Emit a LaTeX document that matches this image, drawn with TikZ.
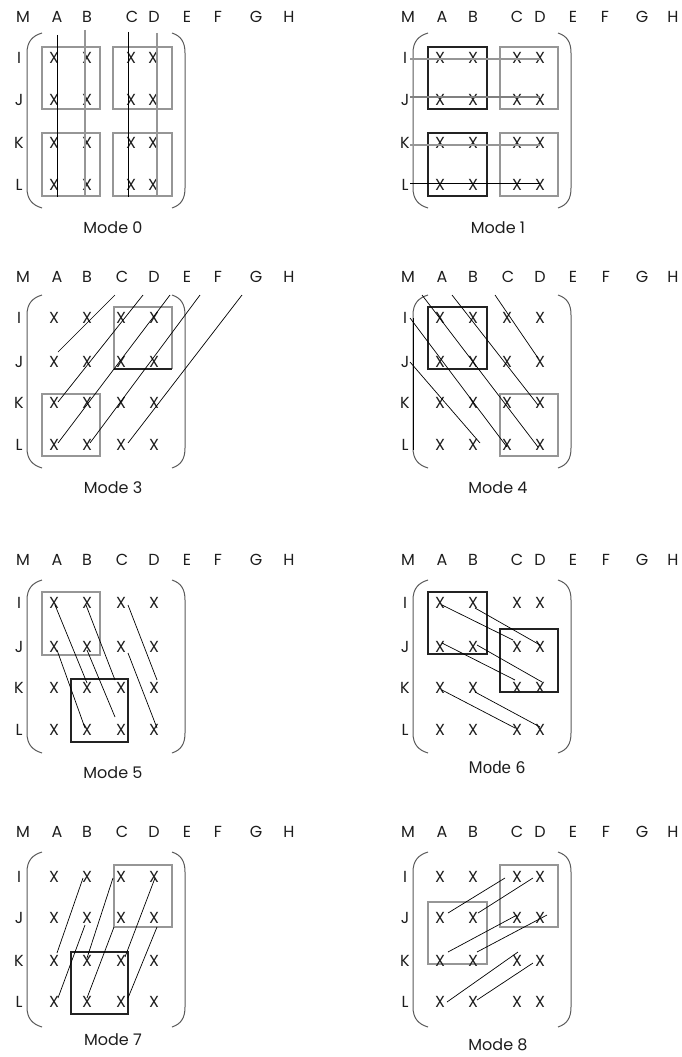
\documentclass[tikz,border=0pt]{standalone}
\usepackage{fontspec}
\setmainfont{Poppins}
\newfontfamily\arialf{Liberation Sans}
\definecolor{ink}{RGB}{30,30,30}
\definecolor{gl}{RGB}{150,150,150}
\definecolor{pc}{RGB}{90,90,90}
\definecolor{dk}{RGB}{35,35,35}
\tikzset{
  hd/.style={font=\fontsize{16}{16}\selectfont, text=ink, inner sep=0pt},
  xx/.style={font=\fontsize{16}{16}\selectfont, text=ink, inner sep=0pt},
  modelbl/.style={font=\fontsize{16}{16}\selectfont, text=ink, inner sep=0pt},
  gbox/.style={draw=gl, line width=1.1pt},
  kbox/.style={draw=dk, line width=1.25pt},
  gln/.style={draw=gl, line width=1.2pt},
  kln/.style={draw=black, line width=1.0pt},
  dln/.style={draw=black, line width=0.7pt},
  paren/.style={draw=pc, line width=1.0pt}
}
% \mparen{leftend}{rightend}{top}{bottom}
\newcommand\mparen[4]{%
  \draw[paren] (#1,#3) .. controls ({#1-10},{#3+3}) and ({#1-15},{#3+9}) .. ({#1-15},{#3+20})
     -- ({#1-15},{#4-20}) .. controls ({#1-15},{#4-9}) and ({#1-10},{#4-3}) .. (#1,#4);
  \draw[paren] (#2,#3) .. controls ({#2+9},{#3+3}) and ({#2+13},{#3+9}) .. ({#2+13},{#3+20})
     -- ({#2+13},{#4-20}) .. controls ({#2+13},{#4-9}) and ({#2+9},{#4-3}) .. (#2,#4);}
\newcommand\hdrL[2]{\foreach \t/\x in {M/23,A/57,B/87,C/122,D/154,E/187,F/218,G/256,H/289}
  \node[hd] (#1-\t) at (\x,#2) {\t};}
\newcommand\hdrR[2]{\foreach \t/\x in {M/408,A/442,B/473,C/517,D/540,E/573,F/606,G/642,H/673}
  \node[hd] (#1-\t) at (\x,#2) {\t};}
\newcommand\rows[6]{\foreach \t/\y in {I/#3,J/#4,K/#5,L/#6}
  \node[hd] (#1-\t) at (#2,\y) {\t};}
\newcommand\xs[9]{\foreach \c/\x in {A/#2,B/#3,C/#4,D/#5}
  \foreach \r/\y in {I/#6,J/#7,K/#8,L/#9}
  \node[xx] (#1-\c\r) at (\x,\y) {X};}
\begin{document}
\begin{tikzpicture}[x=1pt,y=-1pt]
\useasboundingbox[fill=white] (0,0) rectangle (682,1057);

% ---------- Mode 0 ----------
\foreach \t/\x in {M/23,A/57,B/87,C/132,D/154,E/187,F/218,G/256,H/289}
  \node[hd] (a-\t) at (\x,17) {\t};
\rows{a}{19}{58}{100}{143}{185}
\mparen{42}{172}{33}{208}
\draw[gbox] (42,47) rectangle (100,109);
\draw[gbox] (113,47) rectangle (172,109);
\draw[gbox] (42,133) rectangle (100,196);
\draw[gbox] (113,133) rectangle (172,196);
\xs{a}{54}{87}{131}{153}{58}{100}{143}{185}
\draw[gln] (85,30) -- (85,197);
\draw[gln] (157,33) -- (157,197);
\draw[kln] (57,35) -- (57,197);
\draw[kln] (128,32) -- (128,197);
\node[modelbl] (a-cap) at (113,228) {Mode 0};

% ---------- Mode 1 ----------
\foreach \t/\x in {M/408,A/442,B/473,C/517,D/540,E/573,F/605,G/642,H/673}
  \node[hd] (b-\t) at (\x,17) {\t};
\rows{b}{405}{58}{100}{143}{185}
\mparen{428}{558}{33}{208}
\draw[kbox] (428,47) rectangle (487,109);
\draw[gbox] (500,47) rectangle (558,109);
\draw[kbox] (428,133) rectangle (487,196);
\draw[gbox] (500,133) rectangle (558,196);
\xs{b}{440}{473}{517}{540}{58}{100}{143}{185}
\draw[gln] (410,59) -- (540,59);
\draw[gln, draw=gray] (410,97) -- (540,97);
\draw[gln] (410,145) -- (540,145);
\draw[kln] (410,183) -- (540,183);
\node[modelbl] (b-cap) at (498,228) {Mode 1};

% ---------- Mode 3 ----------
\hdrL{c}{277}
\rows{c}{19}{318}{362}{403}{445}
\mparen{42}{172}{295}{468}
\draw[gbox] (114,369) -- (114,307) -- (172,307) -- (172,369);
\draw[kbox] (114,369) -- (172,369);
\draw[gbox] (42,394) rectangle (100,456);
\xs{c}{54}{87}{121}{154}{318}{362}{403}{445}
\draw[dln] (115,295) -- (58,352);
\draw[dln] (143,295) -- (58,402);
\draw[dln] (170,295) -- (58,443);
\draw[dln] (200,295) -- (90,443);
\draw[dln] (242,295) -- (128,443);
\node[modelbl] (c-cap) at (113,488) {Mode 3};

% ---------- Mode 4 ----------
\foreach \t/\x in {M/408,A/442,B/473,C/508,D/540,E/573,F/606,G/642,H/673}
  \node[hd] (d-\t) at (\x,277) {\t};
\rows{d}{405}{318}{362}{403}{445}
\mparen{428}{558}{295}{468}
\draw[kln] (413,318) -- (413,450);
\draw[kbox] (428,307) rectangle (487,369);
\draw[gbox] (500,394) rectangle (558,456);
\xs{d}{440}{473}{507}{540}{318}{362}{403}{445}
\draw[dln] (422,295) -- (538,447);
\draw[dln] (452,295) -- (538,405);
\draw[dln] (495,295) -- (538,358);
\draw[dln] (410,318) -- (507,447);
\draw[dln] (410,362) -- (480,443);
\node[modelbl] (d-cap) at (498,488) {Mode 4};

% ---------- Mode 5 ----------
\hdrL{e}{560}
\rows{e}{19}{603}{647}{688}{730}
\mparen{42}{172}{580}{753}
\draw[gbox] (42,592) rectangle (100,655);
\draw[kbox] (71,679) rectangle (128,742);
\xs{e}{54}{87}{121}{154}{603}{647}{688}{730}
\draw[dln] (55,605) -- (87,683);
\draw[dln] (86,605) -- (115,680);
\draw[dln] (128,605) -- (157,680);
\draw[dln] (57,650) -- (85,728);
\draw[dln] (87,650) -- (115,717);
\draw[dln] (128,653) -- (157,728);
\node[modelbl] (e-cap) at (113,773) {Mode 5};

% ---------- Mode 6 ----------
\hdrR{f}{560}
\rows{f}{405}{603}{647}{688}{730}
\mparen{428}{558}{580}{753}
\draw[kbox] (428,592) rectangle (487,654);
\draw[kbox] (500,629) rectangle (558,692);
\xs{f}{440}{473}{517}{540}{603}{647}{688}{730}
\draw[dln] (442,605) -- (513,640);
\draw[dln] (475,608) -- (540,645);
\draw[dln] (442,643) -- (515,680);
\draw[dln] (477,645) -- (542,682);
\draw[dln] (442,690) -- (515,728);
\draw[dln] (475,692) -- (540,727);
\node[fill=white, minimum width=110pt, minimum height=36pt, inner sep=0pt,
      font=\arialf\fontsize{17}{17}\selectfont, text=ink] (f-cap) at (497,767) {Mode 6};

% ---------- Mode 7 ----------
\hdrL{g}{832}
\rows{g}{19}{877}{918}{961}{1002}
\mparen{42}{172}{852}{1027}
\draw[gbox] (114,865) rectangle (172,927);
\draw[kbox] (71,952) rectangle (128,1014);
\xs{g}{54}{87}{121}{154}{877}{918}{961}{1002}
\draw[dln] (83,878) -- (57,953);
\draw[dln] (85,925) -- (58,998);
\draw[dln] (113,878) -- (87,958);
\draw[dln] (114,927) -- (87,998);
\draw[dln] (155,878) -- (125,957);
\draw[dln] (157,927) -- (128,998);
\node[modelbl] (g-cap) at (113,1040) {Mode 7};

% ---------- Mode 8 ----------
\hdrR{h}{832}
\rows{h}{405}{877}{918}{961}{1002}
\mparen{428}{558}{852}{1027}
\draw[gbox] (500,865) rectangle (558,927);
\draw[gbox] (428,902) rectangle (487,964);
\xs{h}{440}{473}{517}{540}{877}{918}{961}{1002}
\draw[dln] (505,878) -- (448,913);
\draw[dln] (533,878) -- (478,913);
\draw[dln] (517,915) -- (448,952);
\draw[dln] (547,915) -- (477,952);
\draw[dln] (518,952) -- (447,1002);
\draw[dln] (533,963) -- (477,1000);
\node[modelbl] (h-cap) at (498,1045) {Mode 8};
\end{tikzpicture}
\end{document}
